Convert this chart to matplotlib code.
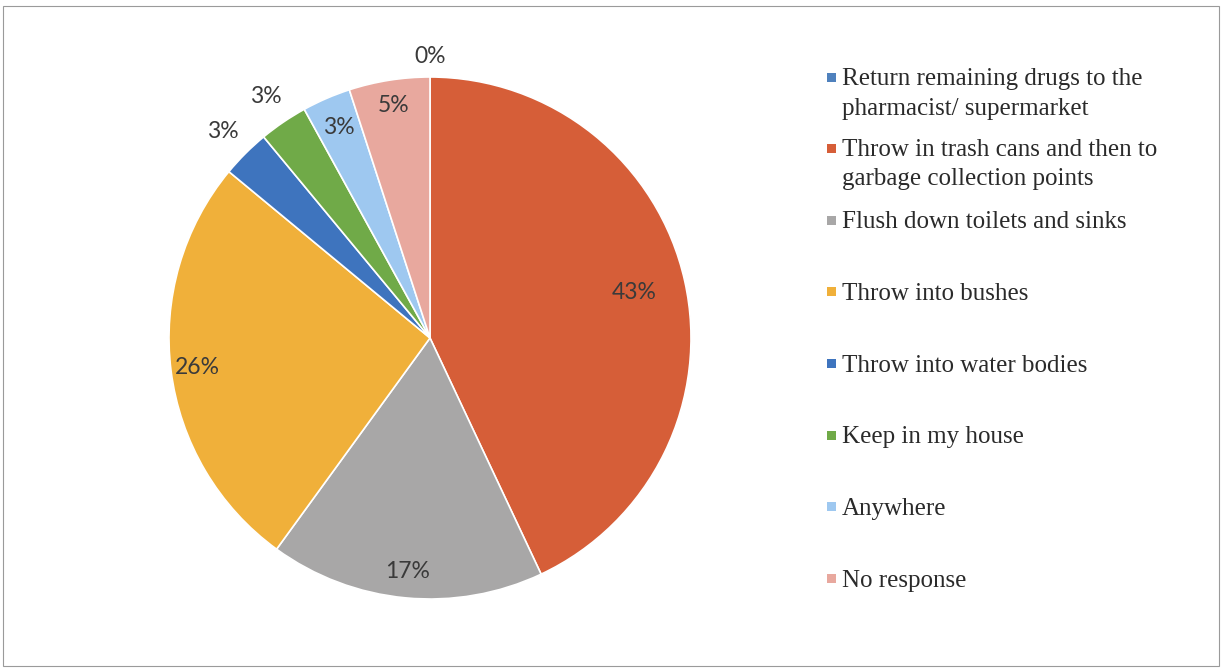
import numpy as np
import matplotlib.pyplot as plt
from matplotlib.patches import Rectangle

categories = [
    "Return remaining drugs to the\npharmacist/ supermarket",
    "Throw in trash cans and then to\ngarbage collection points",
    "Flush down toilets and sinks",
    "Throw into bushes",
    "Throw into water bodies",
    "Keep in my house",
    "Anywhere",
    "No response",
]
shares = [0, 43, 17, 26, 3, 3, 3, 5]
colors = ["#4F81BD", "#D65E38", "#A8A7A7", "#F0B03A",
          "#3E74BE", "#70AA48", "#9EC8F0", "#E8A89E"]
# radial position of each percentage label (1.0 = pie rim)
label_dist = [1.08, 0.80, 0.90, 0.90, 1.12, 1.12, 0.88, 0.90]

W, H = 1222, 672
fig = plt.figure(figsize=(W / 100, H / 100), dpi=100)

# outer frame
fig.patches.append(Rectangle((3 / W, 6 / H), 1216 / W, 660 / H,
                             transform=fig.transFigure, fill=False,
                             edgecolor="#9a9a9a", linewidth=0.8))

cx, cy, r = 430, 338, 261
ax = fig.add_axes([(cx - r) / W, (H - cy - r) / H, 2 * r / W, 2 * r / H])
wedges, _ = ax.pie(shares, colors=colors, startangle=90, counterclock=False,
                   radius=1.0, wedgeprops=dict(edgecolor="white", linewidth=1.2))
ax.set_xlim(-1, 1)
ax.set_ylim(-1, 1)
ax.set_aspect("equal")
ax.axis("off")

for w, val, d in zip(wedges, shares, label_dist):
    ang = np.deg2rad((w.theta1 + w.theta2) / 2)
    ax.text(d * np.cos(ang), d * np.sin(ang), f"{val}%", ha="center",
            va="center", fontsize=16.5, family="Lato", color="#3a3a3a",
            clip_on=False)

# legend drawn as marker squares plus serif text
leg_y = [77, 148, 220, 291, 363, 435, 506, 578]
for y, name, col in zip(leg_y, categories, colors):
    fig.patches.append(Rectangle((827 / W, (H - y - 4.5) / H), 9 / W, 9 / H,
                                 transform=fig.transFigure, facecolor=col,
                                 edgecolor="none"))
    for i, line in enumerate(name.split("\n")):
        fig.text(842 / W, (H - y - i * 29) / H, line, ha="left",
                 va="center_baseline", fontsize=18,
                 family="Liberation Serif", color="#2a2a2a")

fig.savefig("out.png", dpi=100, facecolor="white")
